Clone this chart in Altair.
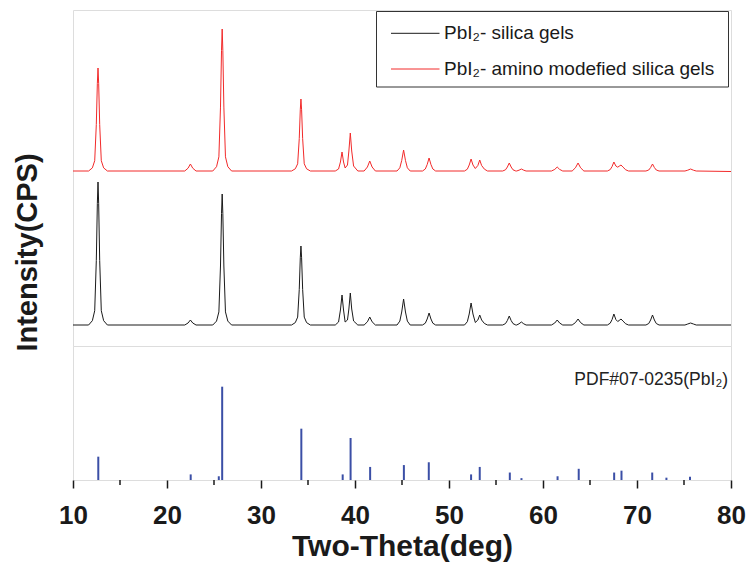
import altair as alt
import pandas as pd

# ---- measured XRD patterns (2-theta in degrees, intensity in counts) ----
TWO_THETA = [
    10.0,
    11.66, 12.06, 12.31, 12.48, 12.59, 12.66, 12.73, 12.84, 13.01, 13.26, 13.66,
    21.89, 22.24, 22.49, 22.74, 23.09,
    24.87, 25.27, 25.52, 25.69, 25.80, 25.87, 25.94, 26.05, 26.22, 26.47, 26.87,
    33.25, 33.65, 33.90, 34.07, 34.18, 34.25, 34.32, 34.43, 34.60, 34.85, 35.25,
    37.9, 38.25, 38.45, 38.62, 38.78, 38.95, 39.2, 39.35, 39.5, 39.65, 39.85, 40.3,
    40.97, 41.32, 41.57, 41.82, 42.17,
    44.47, 44.77, 44.97, 45.17, 45.37, 45.57, 45.87,
    47.18, 47.48, 47.68, 47.88, 48.08, 48.28, 48.58,
    51.65, 51.95, 52.15, 52.35, 52.55, 52.8, 53.07, 53.27, 53.47, 53.77, 54.1,
    55.71, 56.01, 56.21, 56.41, 56.61, 56.81, 57.11,
    57.2, 57.45, 57.7, 57.95, 58.2,
    60.9, 61.25, 61.51, 61.77, 62.1,
    63.1, 63.45, 63.73, 64.0, 64.35,
    66.85, 67.15, 67.35, 67.54, 67.75, 67.95, 68.1, 68.3, 68.5, 68.8, 69.1,
    70.95, 71.25, 71.45, 71.65, 71.85, 72.05, 72.35,
    75.1, 75.4, 75.7, 76.0, 76.3,
    80.0,
]

BLACK_CPS = [
    210,
    210, 253, 353, 854, 1426, 1640, 1426, 854, 353, 253, 210,
    210, 230, 260, 230, 210,
    210, 249, 341, 800, 1324, 1520, 1324, 800, 341, 249, 210,
    210, 234, 289, 566, 882, 1000, 882, 566, 289, 234, 210,
    210, 240, 360, 510, 360, 240, 260, 370, 530, 370, 250, 210,
    210, 242, 290, 242, 210,
    210, 249, 340, 470, 340, 249, 210,
    210, 228, 270, 330, 270, 228, 210,
    210, 243, 320, 430, 320, 235, 260, 310, 260, 225, 210,
    210, 224, 255, 300, 255, 224, 210,
    210, 222, 240, 222, 210,
    210, 230, 260, 230, 210,
    210, 234, 270, 234, 210,
    210, 228, 265, 320, 265, 245, 255, 270, 250, 222, 210,
    210, 225, 260, 310, 260, 225, 210,
    210, 220, 230, 220, 210,
    210,
]

RED_CPS = [
    210,
    210, 241, 313, 674, 1086, 1240, 1086, 674, 313, 241, 210,
    210, 238, 280, 238, 210,
    210, 253, 352, 849, 1417, 1630, 1417, 849, 352, 253, 210,
    210, 232, 282, 534, 822, 930, 822, 534, 282, 232, 210,
    210, 230, 300, 400, 300, 240, 270, 410, 590, 410, 260, 210,
    210, 250, 310, 250, 210,
    210, 242, 315, 420, 315, 242, 210,
    210, 230, 275, 340, 275, 230, 210,
    210, 228, 270, 330, 270, 235, 265, 320, 265, 228, 210,
    210, 222, 250, 290, 250, 222, 210,
    210, 218, 230, 218, 210,
    210, 226, 250, 226, 210,
    210, 242, 290, 242, 210,
    210, 224, 255, 300, 260, 248, 258, 270, 250, 222, 210,
    210, 220, 245, 280, 245, 220, 210,
    210, 218, 230, 218, 210,
    205,
]

RED_OFFSET = 1540  # vertical offset of the upper (red) pattern

SERIES = ["PbI\u2082- silica gels", "PbI\u2082- amino modefied silica gels"]
COLORS = ["#1a1a1a", "#f22a2a"]

# ---- PDF#07-0235 reference lines (relative intensity) ----
STICK_2THETA = [12.69, 22.52, 25.51, 25.87, 34.29, 38.69, 39.53, 41.61, 45.2,
                47.85, 52.35, 53.27, 56.47, 57.71, 61.55, 63.8, 67.57, 68.35,
                71.62, 73.13, 75.64]
STICK_I = [25, 6, 4, 100, 55, 6, 45, 14, 16,
           19, 6, 14, 8, 2, 4, 12, 8, 10,
           8, 2.5, 3.5]
PDF_LABEL = "PDF#07-0235(PbI\u2082)"

MAJOR_TICKS = [10, 20, 30, 40, 50, 60, 70, 80]
MINOR_TICKS = [15, 25, 35, 45, 55, 65, 75]

FONT = "Liberation Sans"
INK = "#1a1a1a"

W = 658
H_TOP = 336
H_BOT = 134

rows = []
for t, b, r in zip(TWO_THETA, BLACK_CPS, RED_CPS):
    rows.append({"theta": t, "cps": b, "series": SERIES[0]})
    rows.append({"theta": t, "cps": r + RED_OFFSET, "series": SERIES[1]})
pattern_df = pd.DataFrame(rows)
stick_df = pd.DataFrame({"theta": STICK_2THETA, "rel": STICK_I})
minor_df = pd.DataFrame({"theta": MINOR_TICKS})

xscale = alt.Scale(domain=[10, 80], nice=False)

lines = alt.Chart(pattern_df).mark_line(strokeWidth=1, clip=True).encode(
    x=alt.X("theta:Q", scale=xscale, axis=None),
    y=alt.Y(
        "cps:Q",
        scale=alt.Scale(domain=[0, 3360], nice=False),
        axis=alt.Axis(
            title="Intensity(CPS)", labels=False, ticks=False, domain=False,
            grid=False, titleFont=FONT, titleFontSize=29, titleFontWeight="bold",
            titleColor=INK, titleY=242, titleX=-37, titleBaseline="alphabetic",
        ),
    ),
    color=alt.Color("series:N", scale=alt.Scale(domain=SERIES, range=COLORS), legend=None),
)

box = alt.Chart(pd.DataFrame({"k": [0]})).mark_rect(
    fill="white", stroke="#333333", strokeWidth=1
).encode(x=alt.value(303.5), x2=alt.value(655.5), y=alt.value(1.5), y2=alt.value(77))

legend_layers = []
row_y = [23.3, 59.0]
for i, name in enumerate(SERIES):
    one = pd.DataFrame({"series": [name]})
    legend_layers.append(
        alt.Chart(one).mark_rule(strokeWidth=1, color=COLORS[i]).encode(
            x=alt.value(318), x2=alt.value(366.5), y=alt.value(row_y[i])
        )
    )
    legend_layers.append(
        alt.Chart(one).mark_text(
            align="left", baseline="alphabetic", font=FONT, fontSize=19, color=INK
        ).encode(x=alt.value(371), y=alt.value(row_y[i] + 6), text="series:N")
    )

top = alt.layer(lines, box, *legend_layers).properties(width=W, height=H_TOP)

sticks = alt.Chart(stick_df).mark_rule(strokeWidth=2, color="#3b4fa6").encode(
    x=alt.X(
        "theta:Q", scale=xscale,
        axis=alt.Axis(
            values=MAJOR_TICKS, tickSize=8, tickWidth=1.5, tickColor=INK,
            domain=False, grid=False, labelFont=FONT, labelFontSize=26,
            labelFontWeight="bold", labelColor=INK, labelPadding=14,
            labelFlush=False, labelOverlap=False, format="d",
            title="Two-Theta(deg)", titleFont=FONT, titleFontSize=30,
            titleFontWeight="bold", titleColor=INK, titleY=75,
            titleBaseline="alphabetic",
        ),
    ),
    y=alt.Y("rel:Q", scale=alt.Scale(domain=[0, 143.6], nice=False), axis=None),
    y2=alt.datum(0),
)

minor = alt.Chart(minor_df).mark_rule(strokeWidth=1.5, color=INK).encode(
    x=alt.X("theta:Q", scale=xscale),
    y=alt.value(H_BOT),
    y2=alt.value(H_BOT + 5),
)

pdf_text = alt.Chart(pd.DataFrame({"label": [PDF_LABEL]})).mark_text(
    align="right", baseline="alphabetic", font=FONT, fontSize=17.5, color="#222222"
).encode(x=alt.value(W - 3), y=alt.value(39), text="label:N")

bottom = alt.layer(sticks, minor, pdf_text).properties(width=W, height=H_BOT)

chart = (
    alt.vconcat(top, bottom, spacing=0)
    .properties(bounds="flush", padding={"left": 4, "top": 1, "right": 0, "bottom": 0})
    .configure_view(stroke="#2a2a2a", strokeWidth=1.5)
    .configure(font=FONT)
)

chart.save("out.html", embed_options={"renderer": "svg", "actions": False})
